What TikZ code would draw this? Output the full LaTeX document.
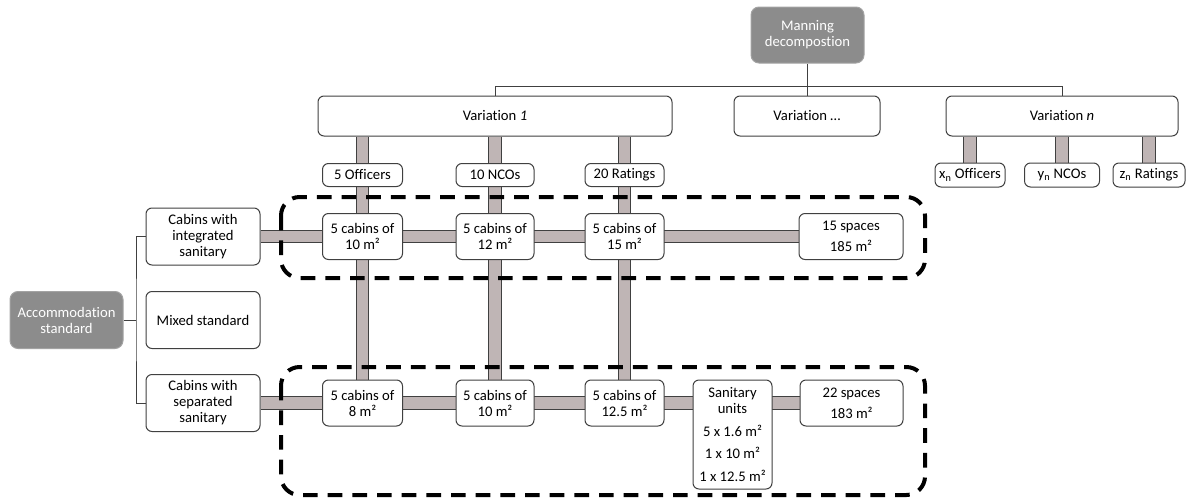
\documentclass[tikz,border=0pt]{standalone}
\usepackage{fontspec}
\setmainfont{Carlito}[Ligatures=CommonOff]
\usetikzlibrary{calc}
\pgfdeclarelayer{bg}
\pgfsetlayers{bg,main}
\definecolor{barfill}{HTML}{BFB5B5}
\definecolor{edge}{HTML}{404040}
\definecolor{darkbox}{HTML}{8C8C8C}
\tikzset{
  box/.style={draw=edge, line width=0.75pt, fill=white, rounded corners=4.5pt,
    align=center, inner sep=0pt, font=\fontsize{11}{12}\selectfont},
  sz/.style 2 args={minimum width=#1*0.75pt, minimum height=#2*0.75pt},
  graybox/.style={box, fill=darkbox, draw=darkbox!80!white, text=white, rounded corners=6pt},
  tree/.style={draw=edge, line width=0.75pt},
  bar/.style={draw=edge, line width=0.6pt, double=barfill, double distance=8.6pt},
  dashbox/.style={draw=black, line width=3pt, dash pattern=on 11pt off 7.5pt, rounded corners=14pt}
}
\begin{document}
\begin{tikzpicture}[x=0.75pt, y=-0.75pt]
\useasboundingbox (0,0) rectangle (1189,500);

% top tree
\node[graybox, sz={113}{56}] (man) at (807.5,35) {Manning\\decompostion};
\node[box, sz={354}{40}] (v1) at (495,116) {Variation \textit{1}};
\node[box, sz={146}{40}] (v2) at (807,116) {Variation …};
\node[box, sz={232}{40}] (vn) at (1062,116) {Variation \textit{n}};

\node[box, sz={80}{23}] (of1) at (362.5,175) {5 Officers};
\node[box, sz={78}{23}] (nc1) at (495,175) {10 NCOs};
\node[box, sz={79}{23}] (ra1) at (624.5,175) {20 Ratings};

\node[box, sz={70}{24}] (ofn) at (970,175) {x\textsubscript{n} Officers};
\node[box, sz={75}{24}] (ncn) at (1062,175) {y\textsubscript{n} NCOs};
\node[box, sz={72}{24}] (ran) at (1149,175) {z\textsubscript{n} Ratings};

% left tree
\node[graybox, sz={113}{57}] (acc) at (66.5,320) {Accommodation\\standard};
\node[box, sz={114}{57}] (ci) at (203,236.5) {Cabins with\\integrated\\sanitary};
\node[box, sz={114}{57}] (mx) at (203,320) {Mixed standard};
\node[box, sz={114}{57}] (cs) at (203,403) {Cabins with\\separated\\sanitary};

% upper row
\node[box, sz={80}{46}] (u1) at (362.5,236.5) {5 cabins of\\10 m²};
\node[box, sz={78}{46}] (u2) at (495,236.5) {5 cabins of\\12 m²};
\node[box, sz={79}{46}] (u3) at (624.5,236.5) {5 cabins of\\15 m²};
\node[box, sz={104}{46}] (us) at (851,236.5) {15 spaces\\[4pt]185 m²};

% lower row
\node[box, sz={80}{46}] (l1) at (362.5,403) {5 cabins of\\8 m²};
\node[box, sz={78}{46}] (l2) at (495,403) {5 cabins of\\10 m²};
\node[box, sz={79}{46}] (l3) at (624.5,403) {5 cabins of\\12.5 m²};
\node[box, sz={79}{109}] (san) at (732.5,434.5) {Sanitary\\units\\[5pt]5 x 1.6 m²\\[5pt]1 x 10 m²\\[5pt]1 x 12.5 m²};
\node[box, sz={103}{46}] (ls) at (851.5,403) {22 spaces\\[4pt]183 m²};

\coordinate (jt) at (808,86);
\coordinate (lj) at (136,320);

\begin{pgfonlayer}{bg}
  % tree lines
  \draw[tree] (man.south) -- (man.south |- v2.north);
  \draw[tree] (v1.north) -- (v1.north |- jt) -- (vn.north |- jt) -- (vn.north);
  \draw[tree] (acc.east) -- (lj);
  \draw[tree] (ci.west) -| (lj) |- (cs.west);
  % bars
  \draw[bar] (v1.south -| l1) -- (l1.north);
  \draw[bar] (v1.south -| l2) -- (l2.north);
  \draw[bar] (v1.south -| l3) -- (l3.north);
  \draw[bar] (vn.south -| ofn) -- (ofn.north);
  \draw[bar] (vn.south -| ncn) -- (ncn.north);
  \draw[bar] (vn.south -| ran) -- (ran.north);
  \draw[bar] (ci.east) -- (us.west);
  \draw[bar] (cs.east) -- (ls.west);
  % dashed groups
  \draw[dashbox] (281,197) rectangle (925,278);
  \draw[dashbox] (281,367) rectangle (925,495);
\end{pgfonlayer}
\end{tikzpicture}
\end{document}
